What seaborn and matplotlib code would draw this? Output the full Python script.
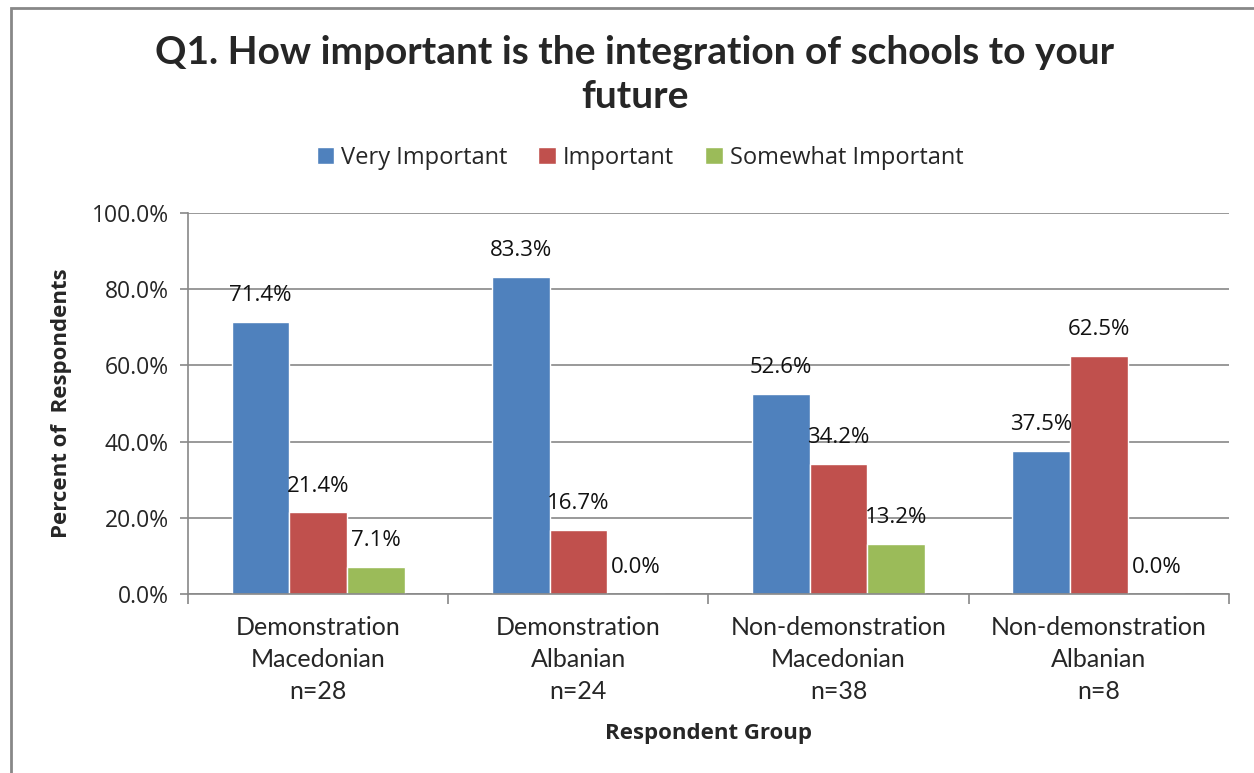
import matplotlib
matplotlib.use("Agg")
import matplotlib.pyplot as plt
import seaborn as sns
import pandas as pd
from matplotlib.patches import Rectangle

categories = ["Demonstration\nMacedonian\nn=28", "Demonstration\nAlbanian\nn=24",
              "Non-demonstration\nMacedonian\nn=38", "Non-demonstration\nAlbanian\nn=8"]
series = ["Very Important", "Important", "Somewhat Important"]
very_important = [71.4, 83.3, 52.6, 37.5]
important = [21.4, 16.7, 34.2, 62.5]
somewhat_important = [7.1, 0.0, 13.2, 0.0]
colors = ["#4F81BD", "#C0504D", "#9BBB59"]
yticks = [0, 20, 40, 60, 80, 100]

rows = []
for s, vals in zip(series, [very_important, important, somewhat_important]):
    for c, v in zip(categories, vals):
        rows.append({"cat": c, "series": s, "value": v})
df = pd.DataFrame(rows)

sns.set_theme(style="white")
plt.rcParams['font.family'] = ['Lato', 'DejaVu Sans']

fig = plt.figure(figsize=(12.54, 7.73), dpi=100)
ax = fig.add_axes([188/1254, 1-594/773, (1229-188)/1254, (594-213)/773])

sns.barplot(data=df, x="cat", y="value", hue="series", palette=colors,
            width=0.665, gap=0, saturation=1, ax=ax, legend=True)

ax.set_ylim(0, 100)
ax.set_xlim(-0.5, 3.5)
ax.set_yticks(yticks)
ax.set_yticklabels([f"{t:.1f}%" for t in yticks], fontsize=16.5, family=['Open Sans'])
ax.set_xticks([0, 1, 2, 3])
ax.set_xticklabels(categories, fontsize=18, linespacing=1.48)
ax.tick_params(axis='x', length=0, pad=16)
ax.tick_params(axis='y', length=6, width=1.2, color='#888888', pad=8, left=True, direction='out')
# category boundary ticks
ax.set_xticks([-0.5, 0.5, 1.5, 2.5, 3.5], minor=True)
ax.tick_params(axis='x', which='minor', length=7, width=1.2, color='#888888', bottom=True, direction='out')

ax.yaxis.grid(True, color='#888888', linewidth=1.2)
ax.set_axisbelow(True)
for sp in ['top', 'right']:
    ax.spines[sp].set_visible(False)
for sp in ['left', 'bottom']:
    ax.spines[sp].set_color('#888888')
    ax.spines[sp].set_linewidth(1.2)

for cont in ax.containers:
    labels = [f"{b.get_height():.1f}%" for b in cont]
    for b, lab in zip(cont, labels):
        ax.annotate(lab, (b.get_x() + b.get_width()/2, b.get_height()),
                    xytext=(0, 19), textcoords='offset points', ha='center', va='center',
                    fontsize=16, family=['Open Sans'], color='#111111')

ax.set_ylabel("Percent of  Respondents", fontsize=16, fontweight='bold', family=['Open Sans'], labelpad=14)
ax.set_xlabel("Respondent Group", fontsize=16, fontweight='bold', family=['Open Sans'], labelpad=14)

leg = ax.legend(loc='center', bbox_to_anchor=(640/1254, 1-158/773), bbox_transform=fig.transFigure,
                ncol=3, frameon=False, prop={'family': 'Open Sans', 'size': 17},
                handlelength=0.75, handleheight=0.75, handletextpad=0.3, columnspacing=1.3)

fig.text(635/1254, 1-53/773, "Q1. How important is the integration of schools to your",
         ha='center', va='center', fontsize=28, fontweight='bold')
fig.text(635/1254, 1-96/773, "future", ha='center', va='center', fontsize=28, fontweight='bold')

# chart border
fig.patches.append(Rectangle((11/1254, -0.1), 1.2, 1 - 8/773 + 0.1, transform=fig.transFigure,
                             fill=False, edgecolor='#888888', linewidth=2))

fig.savefig("out.png", dpi=100)
